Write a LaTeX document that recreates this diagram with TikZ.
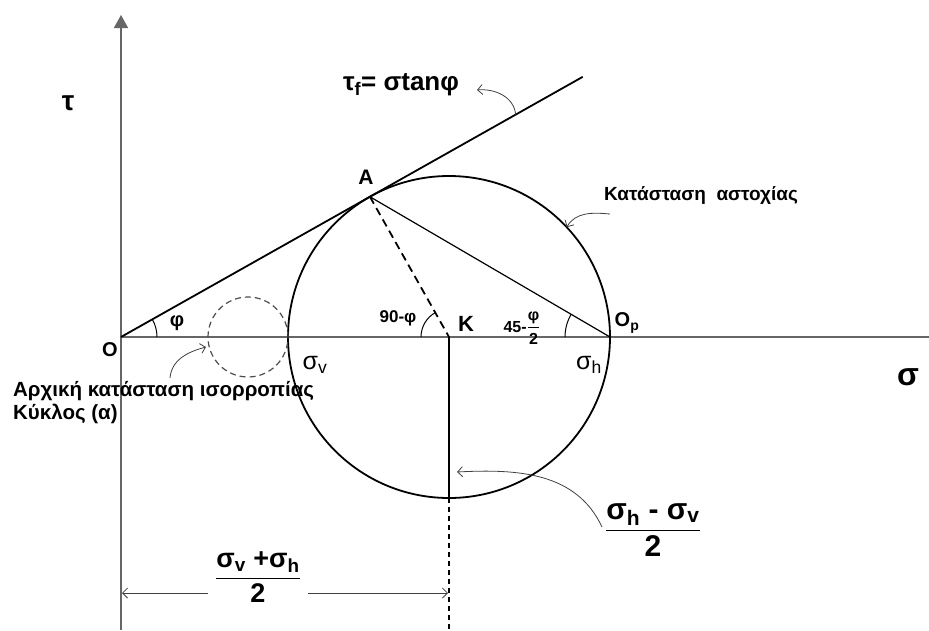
\documentclass[tikz,border=0pt]{standalone}
\usepackage{amsmath}
\usepackage{fontspec}
\setmainfont{Liberation Sans}
\usetikzlibrary{positioning,arrows.meta,calc}
\newcommand{\fsz}[1]{\fontsize{#1}{#1}\selectfont}
\newcommand{\barfrac}[3]{$\genfrac{}{}{#1}{0}{\text{#2}}{\text{#3}}$}
\newcommand{\phiang}{29.4}
\newcommand{\rad}{161}

\begin{document}
\begin{tikzpicture}[x=1pt,y=1pt,>=Latex,font=\bfseries,
  axisline/.style={line width=1.7pt,black!60},
  mainline/.style={line width=1.8pt},
  thinarrow/.style={line width=0.8pt,black!75,-{Straight Barb[length=5pt,width=10pt]}},
  anglearc/.style={line width=1pt}]
\useasboundingbox (-121,-293) rectangle (808,337);
% ---- key points (origin at O) ----
\coordinate (O) at (0,0);
\coordinate (K) at (328,0);
\coordinate (Op) at (328+\rad,0);
\coordinate (B) at (328,-\rad);
\coordinate (A) at (\phiang:{328*cos(\phiang)});
\coordinate (F) at (\phiang:530);
% ---- axes ----
\draw[axisline] (O) -- (808,0);
\draw[axisline,-{Triangle[length=13pt,width=14pt]}] (0,-293) -- (0,322);
\node[font=\bfseries\fsz{28}] (taulbl) at (-53,234) {τ};
\node[font=\bfseries\fsz{32}] (sigmalbl) at (787,-40) {σ};
\node[font=\bfseries\fsz{20}] (Olbl) at (-11,-13) {O};
% ---- failure envelope ----
\draw[mainline] (O) -- (F);
\node[font=\bfseries\fsz{26}] (tauf) at (280,252) {τ\textsubscript{f}= σtanφ};
\coordinate (taufroot) at (\phiang:453);
\coordinate (tauftip) at (356,247);
\draw[thinarrow] (taufroot) to[out=95,in=5] (tauftip);
% ---- Mohr circles ----
\draw[mainline] (K) circle[radius=\rad];
\draw[line width=1.2pt,black!70,dash pattern=on 6pt off 4pt] (127,0) circle[radius=40];
% ---- radii and chords ----
\draw[line width=1.8pt,dash pattern=on 8pt off 5pt] (A) -- (K);
\draw[line width=1.2pt] (A) -- (Op);
\draw[mainline] (K) -- (B);
\draw[line width=1.2pt,dash pattern=on 5pt off 4pt] (B) -- (328,-293);
% ---- angles ----
\draw[anglearc] ($(O)+(36,0)$) arc[start angle=0,end angle=\phiang,radius=36];
\draw[anglearc] ($(K)+(-28,0)$) arc[start angle=180,end angle={90+\phiang},radius=28];
\draw[anglearc] ($(Op)+(-45,0)$) arc[start angle=180,end angle={135+\phiang/2},radius=45];
\node[font=\bfseries\fsz{20}] (philbl) at (56,14) {φ};
\node[font=\bfseries\fsz{17}] (ninetylbl) at (277,19) {90-φ};
\node[font=\bfseries\fsz{16}] (halflbl) at (401,9) {45-\barfrac{1pt}{φ}{2}};
% ---- point labels ----
\node[font=\bfseries\fsz{21}] (Albl) at (245,160) {A};
\node[font=\bfseries\fsz{22}] (Klbl) at (345,13) {K};
\node[font=\bfseries\fsz{20}] (Oplbl) at (506,14) {O\textsubscript{p}};
\node[font=\fsz{25}] (svlbl) at (194,-28) {σ\textsubscript{v}};
\node[font=\fsz{25}] (shlbl) at (468,-28) {σ\textsubscript{h}};
% ---- state labels ----
\node[font=\bfseries\fsz{19}] (failstate) at (580,142) {Κατάσταση\ \ αστοχίας};
\coordinate (failroot) at (489,123);
\draw[thinarrow] (failroot) to[out=175,in=60] ($(K)+(43:\rad)$);
\node[font=\bfseries\fsz{20.5},align=left,anchor=base west,inner sep=0pt] (initstate) at (-108,-82)
  {Αρχική κατάσταση ισορροπίας\\[2pt]Κύκλος (α)};
\coordinate (initroot) at (49,-41);
\coordinate (inittip) at (85,-10);
\draw[thinarrow] (initroot) to[out=85,in=195] (inittip);
% ---- half difference ----
\node[font=\bfseries\fsz{30}] (fracR) at (532,-193) {\barfrac{1.4pt}{σ\textsubscript{h} - σ\textsubscript{v}}{2}};
\coordinate (fracRroot) at (481,-190);
\coordinate (fracRtip) at (336,-135);
\draw[thinarrow] (fracRroot) to[out=115,in=3] (fracRtip);
% ---- mean stress dimension ----
\node[font=\bfseries\fsz{27}] (fracB) at (137,-240) {\barfrac{1.4pt}{σ\textsubscript{v} +σ\textsubscript{h}}{2}};
\coordinate (dimL) at (1,-256);
\coordinate (dimR) at (327,-256);
\draw[thinarrow] ($(fracB.west |- dimL)+(-4,0)$) -- (dimL);
\draw[thinarrow] ($(fracB.east |- dimR)+(4,0)$) -- (dimR);
\end{tikzpicture}
\end{document}
